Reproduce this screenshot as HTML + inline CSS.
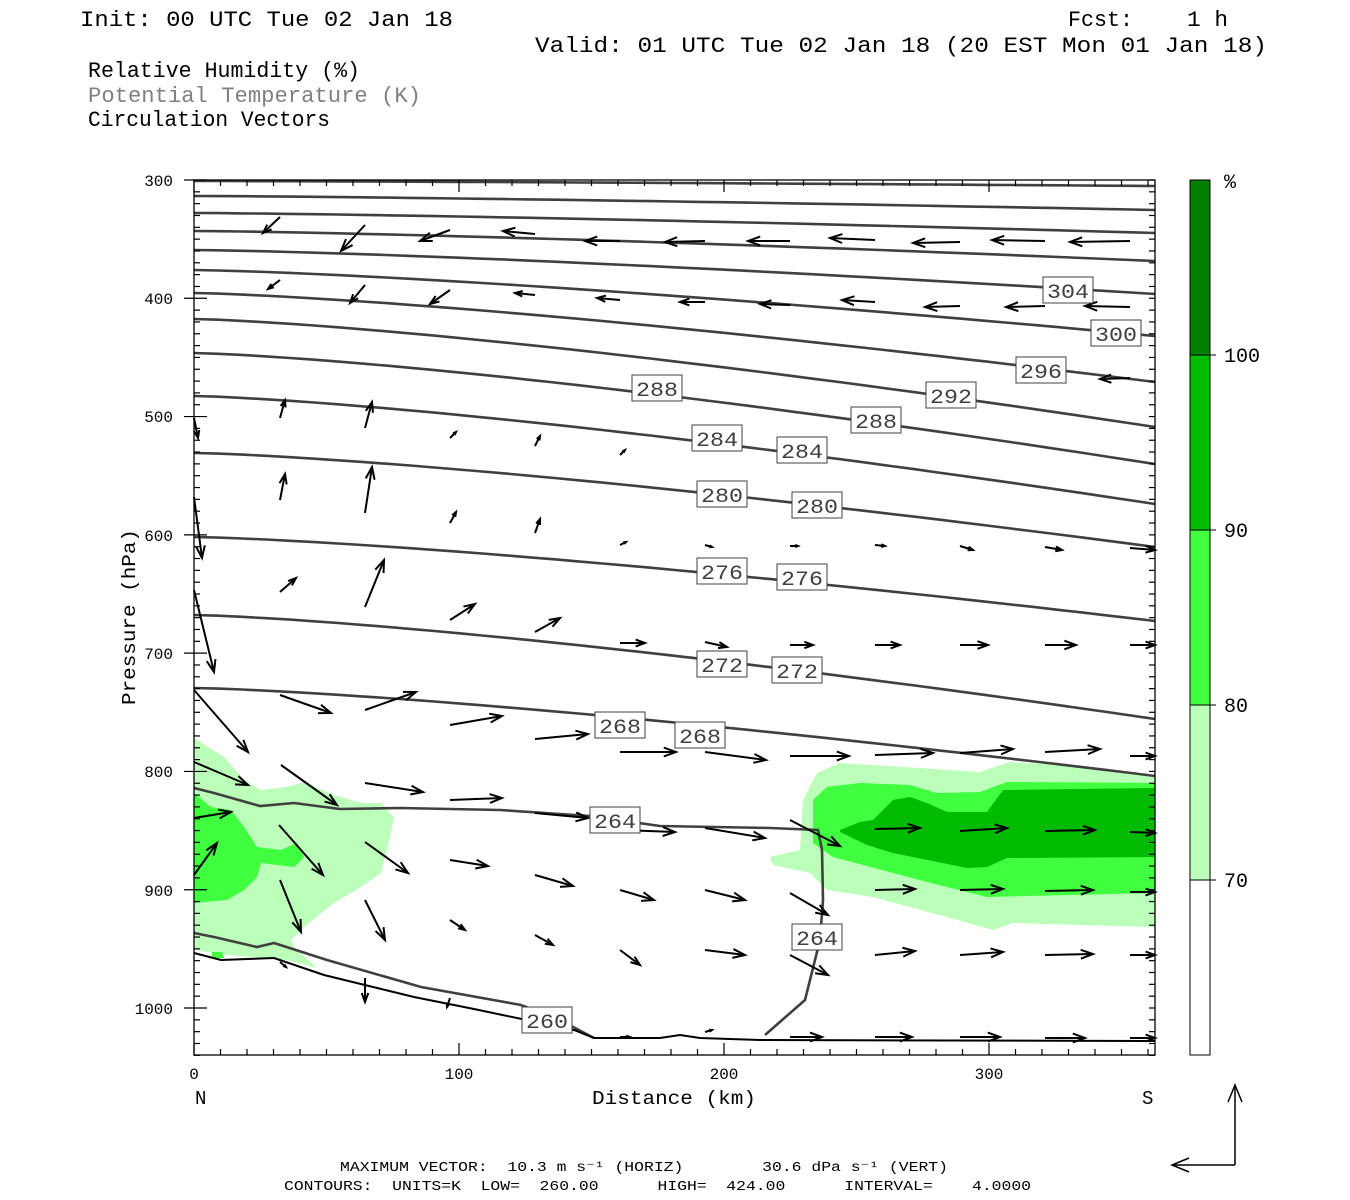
<!DOCTYPE html>
<html><head><meta charset="utf-8"><style>
html,body{margin:0;padding:0;background:#fff;width:1350px;height:1200px;overflow:hidden}
svg text{font-family:"Liberation Mono",monospace;white-space:pre}
</style></head><body>
<svg id="s" width="1350" height="1200" xmlns="http://www.w3.org/2000/svg">
<rect width="1350" height="1200" fill="#fff"/>
<g font-size="22" fill="#000">
<text x="80" y="26" textLength="373" lengthAdjust="spacingAndGlyphs">Init: 00 UTC Tue 02 Jan 18</text>
<text x="1068" y="26" textLength="65" lengthAdjust="spacingAndGlyphs">Fcst:</text>
<text x="1187" y="26" textLength="41" lengthAdjust="spacingAndGlyphs">1 h</text>
<text x="535" y="52" textLength="732" lengthAdjust="spacingAndGlyphs">Valid: 01 UTC Tue 02 Jan 18 (20 EST Mon 01 Jan 18)</text>
<text x="88" y="77" textLength="272" lengthAdjust="spacingAndGlyphs">Relative Humidity (%)</text>
<text x="88" y="102" textLength="333" lengthAdjust="spacingAndGlyphs" fill="#808080">Potential Temperature (K)</text>
<text x="88" y="126" textLength="242" lengthAdjust="spacingAndGlyphs">Circulation Vectors</text>
</g>
<g id="fill">
<polygon fill="#bbffbb" points="194,738 224,757 244,780 261,790 287,787 304,782 334,795 361,803 381,803 394,817 391,833 381,873 361,887 334,903 304,927 291,940 294,947 317,968 287,960 227,955 194,950"/>
<polygon fill="#3fff3f" points="194,793 211,807 231,810 244,827 257,847 281,850 297,843 304,857 294,867 261,863 257,877 244,890 227,900 194,903"/>
<polygon fill="#3fff3f" points="212,952 222,952 224,958 212,958"/>
<polygon fill="#bbffbb" points="840,763 980,772 1010,762 1060,765 1155,775 1155,927 1013,923 993,930 947,917 873,897 827,890 810,873 773,865 770,857 800,850 803,800 817,773"/>
<polygon fill="#3fff3f" points="813,800 827,787 860,783 910,785 937,793 980,792 1007,782 1155,783 1155,893 987,897 927,882 833,857 813,843"/>
<polygon fill="#00bb00" points="840,830 860,822 873,820 893,800 910,797 927,803 947,812 987,812 1003,790 1155,788 1155,857 1007,858 987,867 967,868 893,853 867,845 840,832"/>
</g>
<g id="cont" fill="none" stroke="#404040" stroke-width="2.6"></g>
<g id="vec" fill="none" stroke="#000" stroke-width="2"></g>
<g id="ax" stroke="#000" stroke-width="1.2" fill="none"></g>
<g id="lab" font-size="20" fill="#404040"></g>
<rect x="194" y="180" width="961" height="875" fill="none" stroke="#000" stroke-width="1.3"/>
<g font-size="16" fill="#000" text-anchor="end">
<text x="173" y="186">300</text><text x="173" y="304">400</text><text x="173" y="422">500</text><text x="173" y="541">600</text><text x="173" y="659">700</text><text x="173" y="777">800</text><text x="173" y="896">900</text><text x="173" y="1014">1000</text>
</g>
<g font-size="16" fill="#000" text-anchor="middle">
<text x="194" y="1079">0</text><text x="459" y="1079">100</text><text x="724" y="1079">200</text><text x="989" y="1079">300</text>
</g>
<g font-size="19" fill="#000">
<text x="195" y="1104">N</text><text x="1142" y="1104">S</text>
<text x="592" y="1104" textLength="164" lengthAdjust="spacingAndGlyphs">Distance (km)</text>
<text transform="translate(135,705) rotate(-90)" textLength="176" lengthAdjust="spacingAndGlyphs">Pressure (hPa)</text>
</g>
<rect x="1190" y="180" width="20" height="175" fill="#007f00"/>
<rect x="1190" y="355" width="20" height="175" fill="#00bb00"/>
<rect x="1190" y="530" width="20" height="175" fill="#3fff3f"/>
<rect x="1190" y="705" width="20" height="175" fill="#bbffbb"/>
<rect x="1190" y="880" width="20" height="175" fill="#fff"/>
<rect x="1190" y="180" width="20" height="875" fill="none" stroke="#000" stroke-width="1"/>
<g stroke="#000" stroke-width="1"><line x1="1190" y1="355" x2="1216" y2="355"/><line x1="1190" y1="530" x2="1216" y2="530"/><line x1="1190" y1="705" x2="1216" y2="705"/><line x1="1190" y1="880" x2="1216" y2="880"/></g>
<g font-size="20" fill="#000">
<text x="1224" y="188">%</text><text x="1224" y="362">100</text><text x="1224" y="537">90</text><text x="1224" y="712">80</text><text x="1224" y="887">70</text>
</g>
<g font-size="13.5" fill="#000">
<text x="340" y="1171" textLength="608" lengthAdjust="spacingAndGlyphs" xml:space="preserve">MAXIMUM VECTOR:  10.3 m s⁻¹ (HORIZ)        30.6 dPa s⁻¹ (VERT)</text>
<text x="284" y="1190" textLength="747" lengthAdjust="spacingAndGlyphs" xml:space="preserve">CONTOURS:  UNITS=K  LOW=  260.00      HIGH=  424.00      INTERVAL=    4.0000</text>
</g>
<g stroke="#000" stroke-width="1.5" fill="none">
<polyline points="1235,1165 1235,1085"/><polyline points="1228,1102 1235,1085 1242,1102"/>
<polyline points="1235,1165 1172,1165"/><polyline points="1189,1158 1172,1165 1189,1172"/>
</g>
</svg>
<script>
var NS="http://www.w3.org/2000/svg";
function el(p,t,a){var e=document.createElementNS(NS,t);for(var k in a)e.setAttribute(k,a[k]);document.getElementById(p).appendChild(e);return e;}
var pairs=[[181,186],[196,210],[213,233],[231,261],[250,294],[270,336],[293,382],[319,427],[353,464],[396,504],[453,547],[537,621],[615,719],[688,776]];
pairs.forEach(function(p){var pts=[];for(var i=0;i<=40;i++){var t=i/40;var x=194+961*t;var y=p[0]+(p[1]-p[0])*Math.pow(t,1.35);pts.push(x.toFixed(1)+","+y.toFixed(1));}el("cont","polyline",{points:pts.join(" ")});});
el("cont","polyline",{points:"194,788 214,793 260,806 294,803 340,809 400,808 500,810 590,816 660,826 770,828 818,830 822,850 823,900 820,940 805,1000 765,1035"});
el("cont","polyline",{points:"194,933 214,937 257,947 274,943 327,960 421,987 521,1005 560,1020 594,1038"});
el("cont","polyline",{points:"194,953 221,960 274,958 324,975 414,997 474,1009 574,1030 594,1038 660,1038 680,1035 700,1038 760,1040 1155,1041",stroke:"#000","stroke-width":"2"});
var V=[[280,217,263,233],[365,225,341,251],[450,230,420,241],[535,234,503,231],[620,241,585,241],[705,241,665,242],[790,241,748,241],[875,240,830,238],[960,242,913,243],[1045,241,992,240],[1130,241,1070,242],
[280,280,268,289],[365,285,350,303],[450,290,430,304],[535,295,515,293],[620,300,597,298],[705,302,680,302],[790,305,760,304],[875,302,842,300],[960,306,925,307],[1045,306,1006,307],[1130,307,1085,306],
[1130,378,1100,379],[1045,380,1020,378],
[280,418,285,400],[365,428,372,402],[450,438,456,432],[535,446,540,436],[620,455,625,450],
[280,500,285,474],[365,513,372,467],[450,523,456,512],[535,533,540,519],[620,545,626,542],[705,545,712,547],[790,546,798,546],[875,545,885,546],[960,546,973,550],[1045,547,1062,550],[1130,548,1155,550],
[194,418,198,438],[194,497,202,558],[194,590,214,672],[194,690,248,752],[194,762,248,785],[194,818,231,812],[194,875,217,843],
[280,592,296,578],[365,607,384,560],[450,620,475,604],[535,632,560,618],[620,643,645,643],[705,642,727,647],[790,645,813,645],[875,645,900,645],[960,645,988,645],[1045,645,1076,645],[1130,645,1155,645],
[280,695,331,713],[365,710,416,692],[450,725,502,716],[535,739,588,734],[620,752,676,752],[705,752,766,760],[790,756,849,756],[875,755,933,753],[960,753,1013,749],[1045,752,1100,749],[1130,756,1155,756],
[281,765,337,805],[365,783,423,792],[450,800,502,798],[535,813,588,818],[620,830,675,832],[705,828,765,838],[790,820,840,846],[875,829,920,828],[960,831,1007,828],[1045,831,1095,830],[1130,832,1155,833],
[279,825,323,875],[365,842,408,873],[450,860,488,866],[535,875,573,886],[620,890,654,900],[705,890,745,900],[790,893,828,915],[875,890,915,889],[960,890,1003,889],[1045,891,1093,890],[1130,892,1155,892],
[280,880,301,932],[365,900,385,940],[450,920,465,930],[535,935,553,945],[620,950,640,965],[705,950,745,955],[790,955,828,975],[875,955,915,951],[960,955,1003,952],[1045,955,1093,954],[1130,955,1155,955],
[365,978,365,1002],[450,998,447,1007],[280,962,286,967],
[620,1037,630,1037],[705,1032,712,1030],[790,1037,822,1037],[875,1037,912,1037],[960,1037,1000,1037],[1045,1038,1085,1038],[1130,1038,1155,1038]];
V.forEach(function(v){var dx=v[2]-v[0],dy=v[3]-v[1],L=Math.hypot(dx,dy);if(L<1)return;var ux=dx/L,uy=dy/L;var h=Math.min(13,0.4*L),a=0.35;
function r(c,s){return [v[2]-h*(ux*c-uy*s),v[3]-h*(uy*c+ux*s)];}
var p1=r(Math.cos(a),Math.sin(a)),p2=r(Math.cos(a),-Math.sin(a));
el("vec","polyline",{points:v[0]+","+v[1]+" "+v[2]+","+v[3]});
el("vec","polyline",{points:p1[0]+","+p1[1]+" "+v[2]+","+v[3]+" "+p2[0]+","+p2[1]});});
var L=[[304,1068,290],[300,1116,333],[296,1041,370],[292,951,395],[288,657,388],[288,876,420],[284,717,438],[284,802,450],[280,722,494],[280,817,505],[276,722,571],[276,802,577],[272,722,664],[272,797,670],[268,620,725],[268,700,735],[264,615,820],[264,817,937],[260,547,1020]];
L.forEach(function(l){el("lab","rect",{x:l[1]-25,y:l[2]-13,width:50,height:26,fill:"#fff",stroke:"#404040","stroke-width":"1"});var t=el("lab","text",{x:l[1],y:l[2]+8,"text-anchor":"middle",textLength:"42",lengthAdjust:"spacingAndGlyphs"});t.textContent=l[0];});
for(var p=300;p<=1040;p+=10){var y=180+(p-300)*828/700;var big=(p%100==0);
el("ax","line",{x1:big?184:194,y1:y,x2:big?207:200,y2:y});el("ax","line",{x1:1149,y1:y,x2:1155,y2:y});}
for(var d=0;d<=360;d+=10){var x=194+d*2.65;var big=(d%100==0);el("ax","line",{x1:x,y1:1055,x2:x,y2:big?1043:1049});el("ax","line",{x1:x,y1:180,x2:x,y2:big?192:186});}
</script>
</body></html>
